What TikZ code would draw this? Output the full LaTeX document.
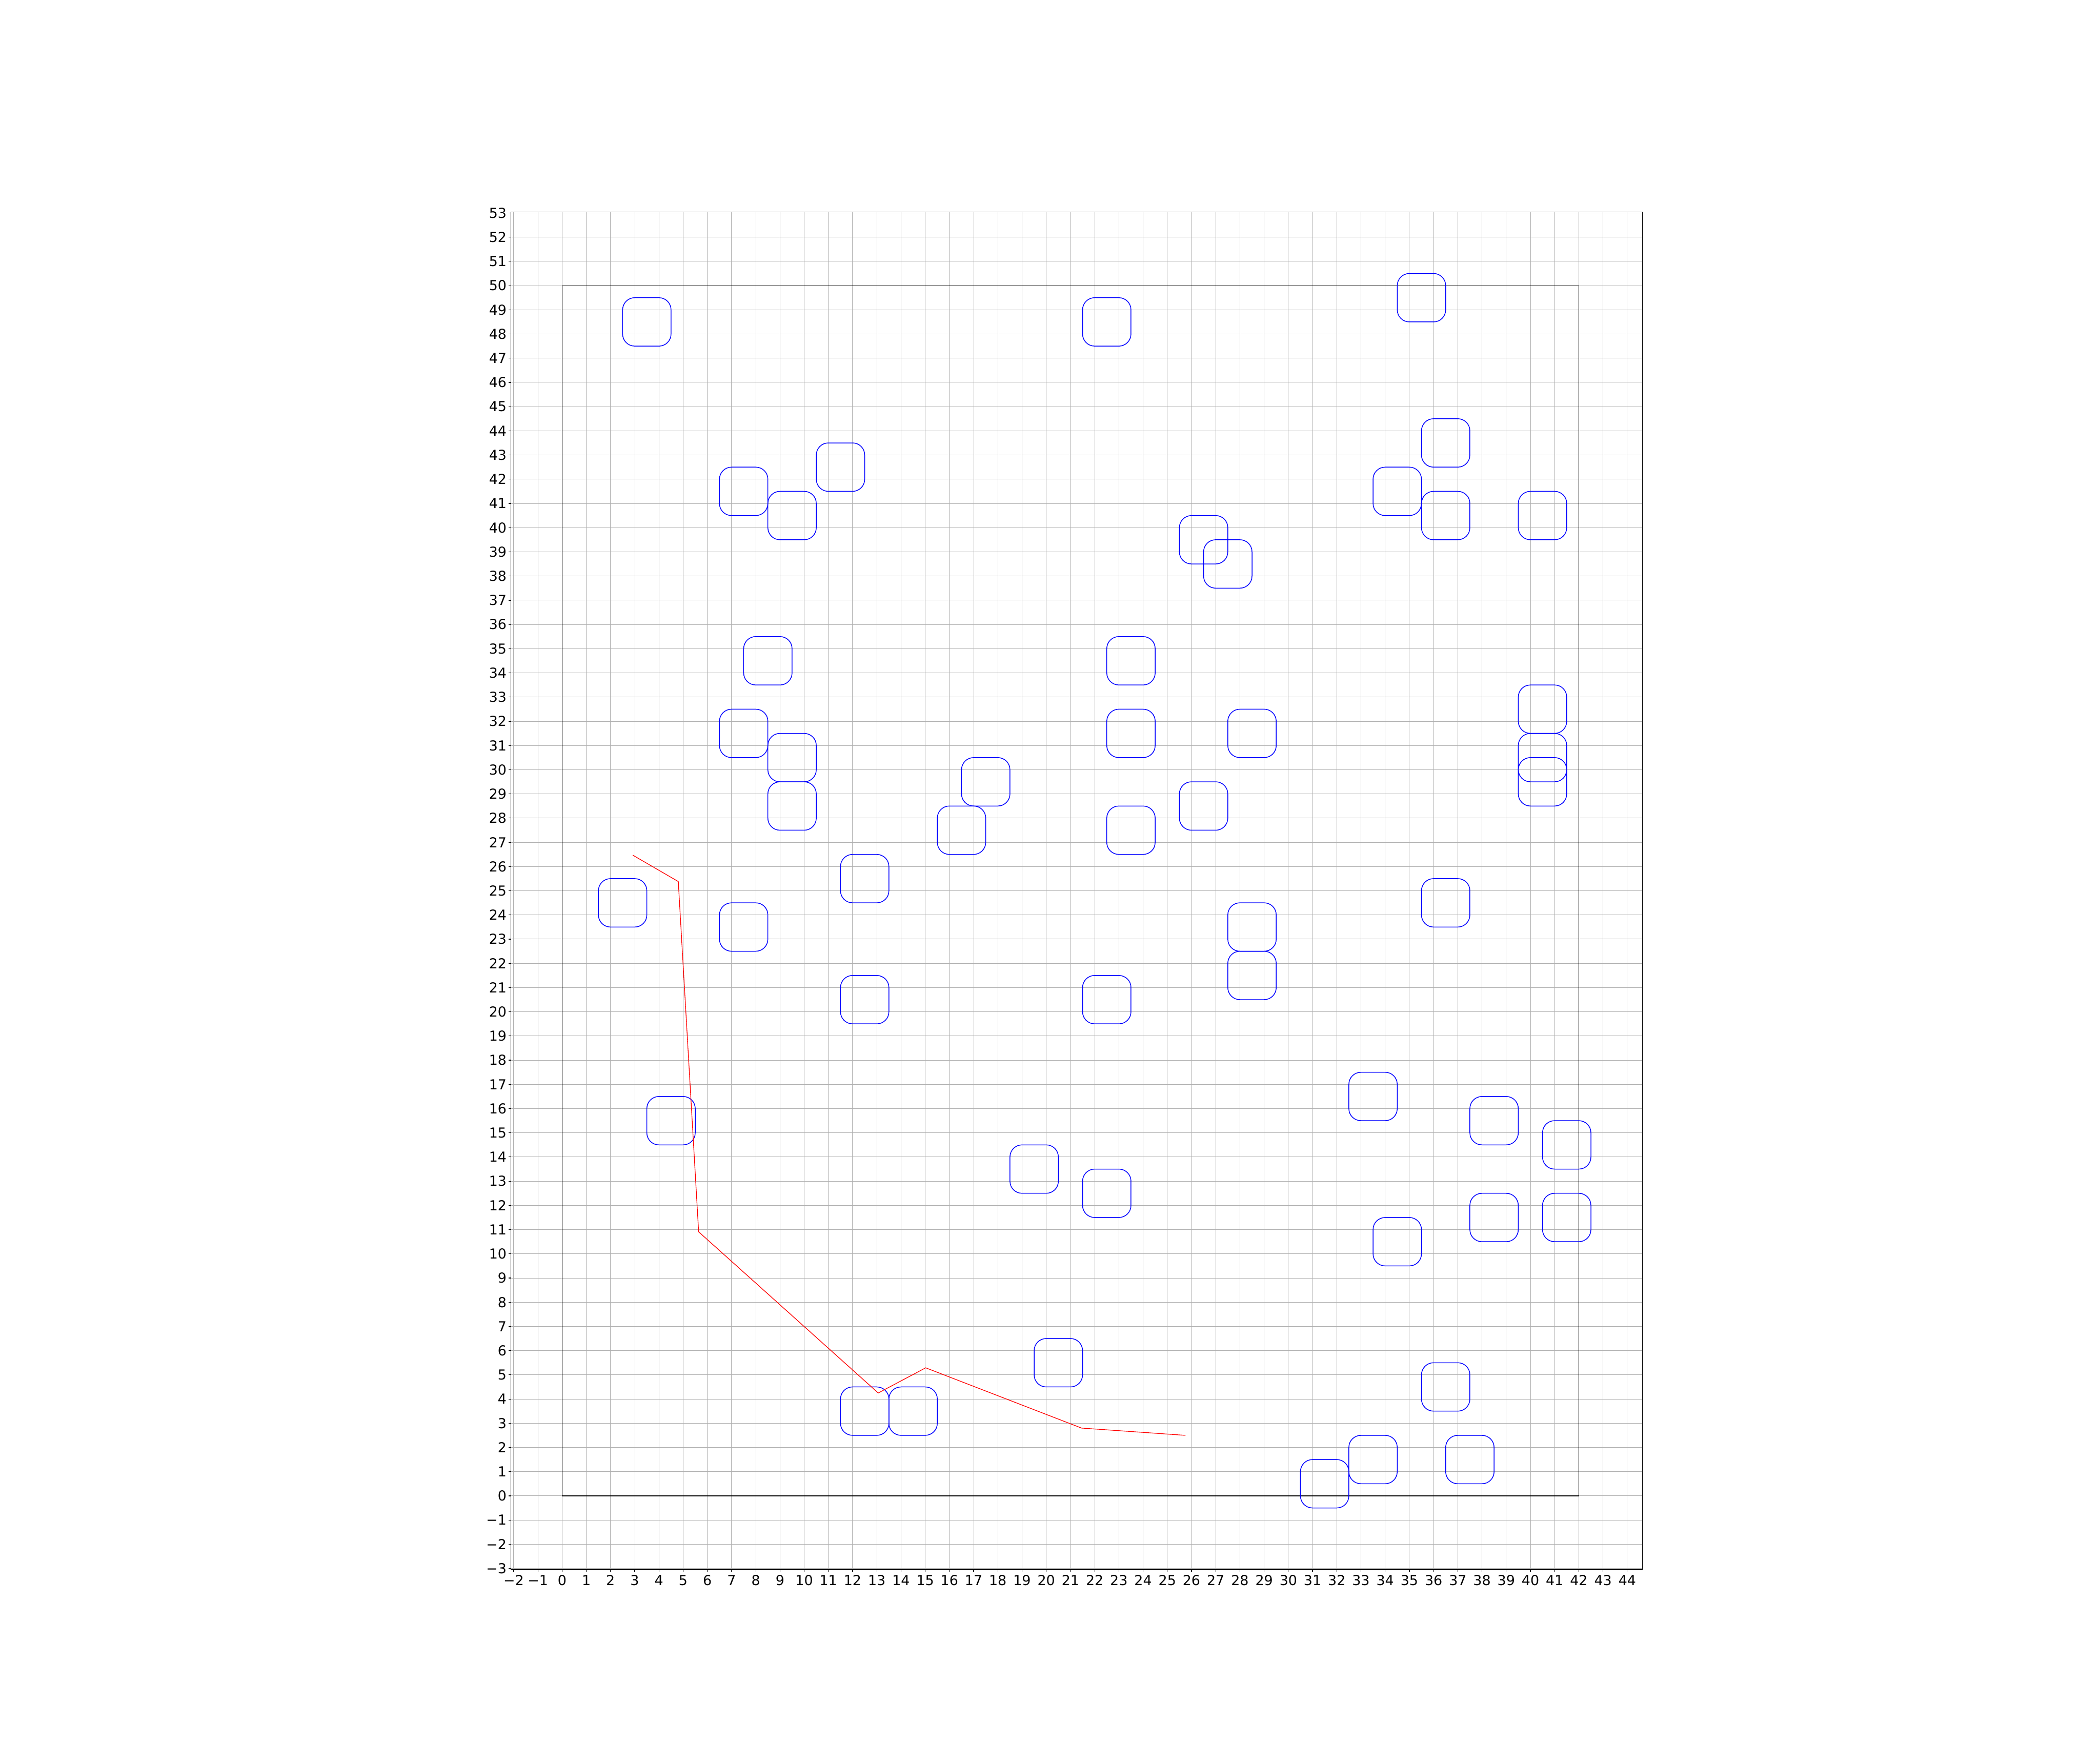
\documentclass[tikz,border=0pt]{standalone}
\usepackage{fontspec}
\setmainfont{DejaVu Sans}
\usepackage{tikz}
\usetikzlibrary{positioning,calc}
\definecolor{GridGray}{HTML}{B0B0B0}
\definecolor{ObstBlue}{HTML}{0000FF}
\definecolor{RouteRed}{HTML}{FF0000}
\newcommand{\ticktext}[1]{\ifnum#1<0 −\number\numexpr-#1\relax\else#1\fi}

\begin{document}
\begin{tikzpicture}[
	x=0.5cm,y=0.5cm,
	gridline/.style={draw=GridGray,line width=0.3pt},
	axisframe/.style={draw=black,line width=0.35pt},
	ticklabel/.style={inner sep=0pt,font=\fontsize{8.1}{9}\selectfont},
	obst/.style={draw=ObstBlue,line width=0.45pt,rounded corners=0.25cm,minimum size=1cm,inner sep=0pt},
	route/.style={draw=RouteRed,line width=0.4pt}
	]
	\useasboundingbox (-23.22,-11.06) rectangle (63.53,61.80);
	
	\foreach \y in {-3,...,53}
	\draw[gridline] (-2.12,\y) -- (44.62,\y);
	\foreach \x in {-2,...,44}
	\draw[gridline] (\x,-3.05) -- (\x,53.04);
	
	\draw[axisframe] (-2.12,-3.05) rectangle (44.62,53.04);
	\foreach \y in {-3,...,53}{
		\draw[axisframe] (-2.21,\y) -- (-2.12,\y);
		\node[ticklabel,anchor=east] (ylab\y) at (-2.28,\y) {\ticktext{\y}};
	}
	\foreach \x in {-2,...,44}{
		\draw[axisframe] (\x,-3.14) -- (\x,-3.05);
		\node[ticklabel,anchor=north] (xlab\x) at (\x,-3.27) {\ticktext{\x}};
	}
	
	\draw[axisframe] (0,0) rectangle (42,50);
	
	\foreach \cx/\cy [count=\k] in {
		3.5/48.5, 22.5/48.5, 35.5/49.5, 36.5/43.5, 11.5/42.5, 7.5/41.5, 9.5/40.5,
		34.5/41.5, 36.5/40.5, 40.5/40.5, 26.5/39.5, 27.5/38.5, 8.5/34.5, 23.5/34.5,
		7.5/31.5, 9.5/30.5, 23.5/31.5, 28.5/31.5, 40.5/32.5, 40.5/30.5, 40.5/29.5,
		17.5/29.5, 9.5/28.5, 26.5/28.5, 16.5/27.5, 23.5/27.5, 12.5/25.5, 2.5/24.5,
		36.5/24.5, 7.5/23.5, 28.5/23.5, 28.5/21.5, 12.5/20.5, 22.5/20.5, 33.5/16.5,
		4.5/15.5, 38.5/15.5, 41.5/14.5, 19.5/13.5, 22.5/12.5, 38.5/11.5, 41.5/11.5,
		34.5/10.5, 20.5/5.5, 36.5/4.5, 12.5/3.5, 14.5/3.5, 33.5/1.5, 37.5/1.5, 31.5/0.5}
	\node[obst] (obst\k) at (\cx,\cy) {};
	
	\coordinate (wp1) at (2.92,26.47);
	\coordinate (wp2) at (4.80,25.38);
	\coordinate (wp3) at (5.64,10.91);
	\coordinate (wp4) at (13.06,4.25);
	\coordinate (wp5) at (15.02,5.29);
	\coordinate (wp6) at (21.46,2.80);
	\coordinate (wp7) at (25.75,2.50);
	\draw[route] (wp1) -- (wp2) -- (wp3) -- (wp4) -- (wp5) -- (wp6) -- (wp7);
\end{tikzpicture}
\end{document}
